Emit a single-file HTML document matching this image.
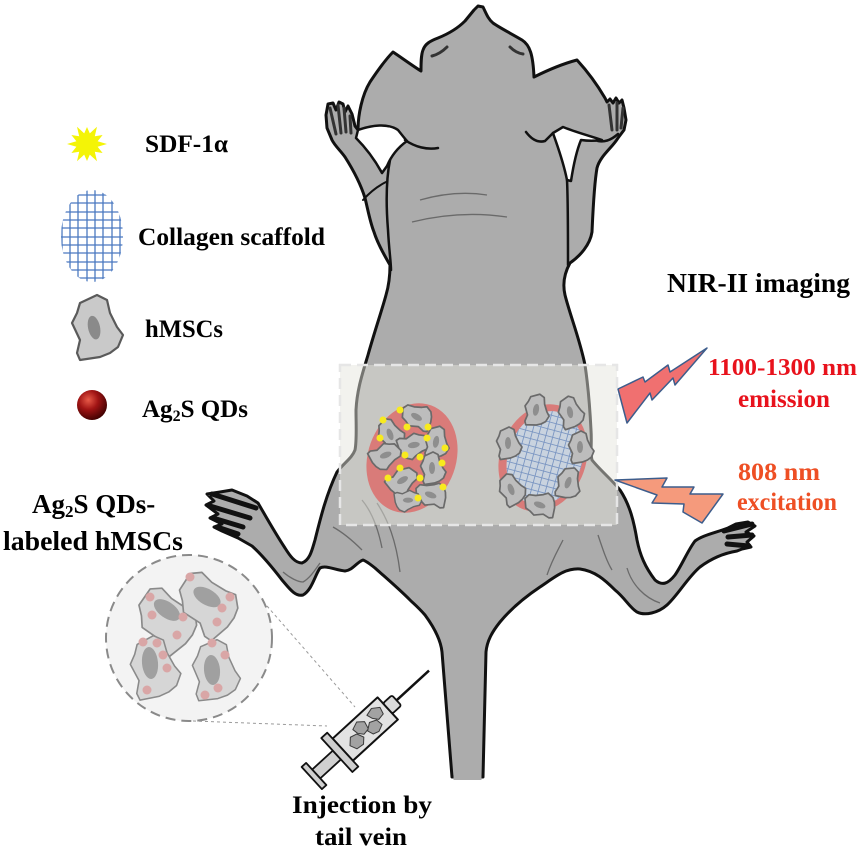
<!DOCTYPE html>
<html><head><meta charset="utf-8"><style>html,body{margin:0;padding:0;background:#fff;}svg{display:block}</style></head>
<body>
<svg width="865" height="859" viewBox="0 0 865 859" xmlns="http://www.w3.org/2000/svg">
<defs>
 <radialGradient id="qd" cx="0.38" cy="0.33" r="0.72">
  <stop offset="0" stop-color="#e85a48"/>
  <stop offset="0.45" stop-color="#a01414"/>
  <stop offset="1" stop-color="#3a0000"/>
 </radialGradient>
 <clipPath id="lg"><ellipse cx="92" cy="236" rx="31" ry="46"/></clipPath>
 <clipPath id="rg"><ellipse cx="545" cy="458" rx="37" ry="48" transform="rotate(20 545 458)"/></clipPath>
 <g id="sc">
  <path d="M-8.5,-12 L0,-16 L5,-13.5 L6.5,-7 L10,0 L13,4 L10.5,10 L6.5,13 L1.5,15 L-8.5,16.5 L-10,13 L-8.5,6.5 L-12.5,-2 L-10,-7 Z" fill="#bdbdbd" stroke="#6a6a6a" stroke-width="1.7" stroke-linejoin="round"/>
  <ellipse cx="-1" cy="0" rx="3" ry="6" fill="#8e8e8e"/>
 </g>
 <path id="bc" d="M-17,-24 L0,-32 L10,-27 L13,-14 L20,0 L26,8 L21,20 L13,26 L3,30 L-17,33 L-20,26 L-17,13 L-25,-4 L-20,-14 Z"/>
</defs>

<!-- Legend -->
<polygon points="107,144 97.6,146.8 102.6,153 94.8,151.8 97,161.3 89.8,154.6 87,161 84.2,154.6 77,161.3 79.2,151.8 71.4,153 76.4,146.8 67,144 76.4,141.2 71.4,135 79.2,136.2 77,126.7 84.2,133.4 87,127 89.8,133.4 97,126.7 94.8,136.2 102.6,135 97.6,141.2" fill="#f4f406"/>
<g clip-path="url(#lg)" stroke="#4a78c0" stroke-width="1.3" fill="none">
 <path d="M62 185V290M70 185V290M78 185V290M87 185V290M95 185V290M103 185V290M112 185V290M120 185V290"/>
 <path d="M58 187H128M58 195H128M58 203H128M58 212H128M58 220H128M58 228H128M58 237H128M58 245H128M58 253H128M58 262H128M58 270H128M58 278H128M58 286H128"/>
</g>
<g transform="translate(97,327)">
 <use href="#bc" fill="#c9c9c9" stroke="#5a5a5a" stroke-width="2.2" stroke-linejoin="round"/>
 <ellipse cx="-3" cy="0" rx="6" ry="12" transform="rotate(-12)" fill="#8a8a8a"/>
</g>
<circle cx="92" cy="405" r="15" fill="url(#qd)"/>

<g font-family="'Liberation Serif', serif" font-weight="bold" fill="#000">
 <text x="145" y="152" font-size="25" textLength="83" lengthAdjust="spacingAndGlyphs">SDF-1α</text>
 <text x="138" y="245" font-size="25" textLength="187" lengthAdjust="spacingAndGlyphs">Collagen scaffold</text>
 <text x="145" y="337" font-size="25" textLength="78" lengthAdjust="spacingAndGlyphs">hMSCs</text>
 <text x="142" y="417" font-size="25">Ag<tspan font-size="16" dy="4">2</tspan><tspan dy="-4">S QDs</tspan></text>
 <text x="667" y="292" font-size="27" textLength="183" lengthAdjust="spacingAndGlyphs">NIR-II imaging</text>
 <text x="32" y="513" font-size="27">Ag<tspan font-size="17" dy="4">2</tspan><tspan dy="-4">S QDs-</tspan></text>
 <text x="3" y="550" font-size="27" textLength="180" lengthAdjust="spacingAndGlyphs">labeled hMSCs</text>
 <text x="292" y="813" font-size="25" textLength="140" lengthAdjust="spacingAndGlyphs">Injection by</text>
 <text x="315" y="845" font-size="25" textLength="92" lengthAdjust="spacingAndGlyphs">tail vein</text>
 <text x="708" y="375" font-size="24" fill="#e8121c" textLength="149" lengthAdjust="spacingAndGlyphs">1100-1300 nm</text>
 <text x="738" y="407" font-size="25" fill="#e8121c" textLength="92" lengthAdjust="spacingAndGlyphs">emission</text>
 <text x="738" y="480" font-size="25" fill="#ee4f24" textLength="82" lengthAdjust="spacingAndGlyphs">808 nm</text>
 <text x="737" y="510" font-size="25" fill="#ee4f24" textLength="100" lengthAdjust="spacingAndGlyphs">excitation</text>
</g>

<!-- Inset circle -->
<circle cx="189" cy="638" r="83" fill="#f3f3f3" stroke="#8a8a8a" stroke-width="2" stroke-dasharray="10 6"/>
<path d="M267,606 L355,707 M193,721 L327,726" stroke="#9a9a9a" stroke-width="1" stroke-dasharray="3 3" fill="none"/>
<g fill="#d6d6d6" stroke="#8a8a8a" stroke-width="1.6" stroke-linejoin="round">
 <use href="#bc" transform="translate(167,618) rotate(-30) scale(1.05)"/>
 <use href="#bc" transform="translate(208,602) rotate(-32) scale(1.05)"/>
 <use href="#bc" transform="translate(155,667) rotate(-3) scale(0.98)"/>
 <use href="#bc" transform="translate(216,670) rotate(2) scale(0.95)"/>
</g>
<g fill="#a0a0a0">
 <ellipse cx="167" cy="610" rx="8" ry="15" transform="rotate(-55 167 610)"/>
 <ellipse cx="207" cy="597" rx="8" ry="15" transform="rotate(-60 207 597)"/>
 <ellipse cx="150" cy="663" rx="8" ry="16" transform="rotate(-5 150 663)"/>
 <ellipse cx="212" cy="670" rx="8" ry="15" transform="rotate(-5 212 670)"/>
</g>
<g fill="#d9a6a6">
 <circle cx="150" cy="597" r="4.5"/><circle cx="152" cy="615" r="4.5"/><circle cx="183" cy="617" r="4.5"/><circle cx="177" cy="635" r="4.5"/>
 <circle cx="190" cy="577" r="4.5"/><circle cx="230" cy="597" r="4.5"/><circle cx="222" cy="608" r="4.5"/><circle cx="217" cy="622" r="4.5"/>
 <circle cx="143" cy="642" r="4.5"/><circle cx="157" cy="643" r="4.5"/><circle cx="163" cy="655" r="4.5"/><circle cx="167" cy="668" r="4.5"/><circle cx="147" cy="690" r="4.5"/>
 <circle cx="212" cy="643" r="4.5"/><circle cx="225" cy="655" r="4.5"/><circle cx="218" cy="688" r="4.5"/><circle cx="205" cy="695" r="4.5"/>
</g>

<!-- Syringe -->
<g transform="translate(314,776) rotate(-42.5)" stroke="#111" stroke-width="1.8" stroke-linejoin="round">
 <line x1="112" y1="0" x2="156" y2="0" stroke-width="2.5"/>
 <rect x="3" y="-6" width="28" height="12" fill="#d0d0d0"/>
 <rect x="-3" y="-15" width="6" height="30" fill="#cfcfcf"/>
 <rect x="39" y="-15" width="61" height="30" fill="#e2e2e2" stroke-width="2"/>
 <rect x="31" y="-23" width="8" height="46" fill="#cfcfcf"/>
 <rect x="100" y="-7" width="12" height="14" rx="2" fill="#dadada"/>
 <g fill="#a2a2a2" stroke="#3a3a3a" stroke-width="1">
  <path d="M47,2 L53,-4 L60,-2 L63,5 L58,10 L50,9 Z"/>
  <path d="M60,-8 L68,-11 L74,-6 L72,2 L65,3 L61,-2 Z"/>
  <path d="M70,3 L77,-2 L84,1 L85,8 L78,11 L72,9 Z"/>
  <path d="M80,-9 L88,-11 L95,-6 L93,1 L86,2 L82,-3 Z"/>
 </g>
</g>

<!-- Mouse -->
<path id="mouse" d="M474,10 L478,6 L483,7 C486,13 488,19 493,23 C500,28 512,34 522,40 C530,45 533,55 534,77 C548,70 562,64 577,60 C588,72 598,86 605,98 L607,102 L610,99 L613,103 L616,98 L619,103 L622,100 L624,108 L626,120 L624,130 L618,138 C612,148 600,156 597,168 C594,185 593,210 592,232 C590,245 580,256 570,263 C565,272 562,282 565,295 C570,315 580,340 585,365 C588,385 590,410 591,430 C592,445 590,452 592,460 C600,470 612,480 620,490 C630,505 634,522 637,540 C640,555 645,567 655,580 C662,586 668,584 675,575 C682,565 688,550 695,541 C703,535 715,533 728,528 L736,524 L748,522 L755,526 L746,532 L754,536 L747,542 L751,547 L742,549 L737,551 C725,553 712,558 700,567 C688,577 678,595 667,605 C658,613 645,616 637,612 C630,608 625,598 615,590 C605,580 595,571 580,569 C565,568 555,577 540,587 C525,597 510,610 500,622 C492,632 487,641 486,652 L483,777 L452,777 L442,652 C441,642 436,630 425,615 C418,607 413,603 410,600 C398,588 385,577 375,568 C370,564 366,561 363,560 C357,562 353,570 345,571 C335,570 326,565 320,568 C315,575 312,590 303,595 C295,597 289,588 282,580 C272,567 262,555 252,546 L238,538 L222,531 L214,527 L222,524 L210,518 L218,514 L206,505 L214,501 L207,494 L220,492 L232,490 L247,496 L258,503 C265,515 275,533 285,548 C290,556 295,563 302,563 C310,560 312,550 315,540 C320,520 326,495 337,472 C345,462 352,458 355,450 C357,440 356,425 356,410 C357,390 362,375 368,355 C375,330 382,310 386,295 C389,285 390,275 390,265 C386,258 378,245 374,232 C370,222 368,210 365,198 C360,182 352,168 345,157 C340,150 335,146 332,140 L327,128 L326,115 L328,104 L333,103 L336,110 L339,102 L343,104 L345,112 L348,106 L352,114 L355,126 L358,130 C358,115 362,95 370,82 C378,70 385,60 393,52 C402,58 413,66 421,71 C421,63 421,55 423,50 C425,44 430,41 438,38 C448,34 458,28 465,21 Z" fill="#acacac"/>
<!-- darker legs -->
<g fill="#9d9d9d">
 <path d="M258,503 C265,515 275,533 285,548 C290,556 295,563 302,563 C310,560 312,550 315,540 C320,520 326,495 337,472 L345,478 C350,510 356,540 363,560 C357,562 353,570 345,571 C335,570 326,565 320,568 C315,575 312,590 303,595 C295,597 289,588 282,580 C272,567 262,555 252,546 Z"/>
 <path d="M620,490 C630,505 634,522 637,540 C640,555 645,567 655,580 C662,586 668,584 675,575 C682,565 688,550 695,541 C703,535 715,533 728,528 L737,551 C725,553 712,558 700,567 C688,577 678,595 667,605 C658,613 645,616 637,612 C630,608 625,598 615,590 C608,570 605,540 605,510 Z"/>
</g>
<use href="#mouse" fill="none" stroke="#111" stroke-width="3" stroke-linejoin="round"/>
<rect x="453.5" y="774" width="28" height="6" fill="#acacac"/>
<!-- notches -->
<path d="M358,130 C372,125 388,123 398,130 C402,135 405,139 407,141 C400,146 392,154 387,166 L382,173 C376,162 368,150 356,138 Z" fill="#fff" stroke="#111" stroke-width="2.5" stroke-linejoin="round"/>
<path d="M553,133 C557,145 563,160 567,180 L571,181 C573,168 576,152 581,140 C588,141 595,141 602,140 C590,136 575,132 563,127 Z" fill="#fff" stroke="#111" stroke-width="2.5" stroke-linejoin="round"/>
<g fill="none" stroke="#111" stroke-width="2.5" stroke-linecap="round">
 <path d="M405,140 C415,147 427,150 438,148"/>
 <path d="M526,132 C532,140 538,143 545,141 L553,133"/>
 <path d="M618,134 C610,141 604,142 598,141"/>
 <path d="M390,160 C386,180 386,205 388,230 C389,250 391,262 391,270"/>
 <path d="M567,180 C568,200 568,235 568,265"/>
 <path d="M363,200 C370,192 378,186 386,182" stroke-width="2"/>
</g>
<g fill="none" stroke="#333" stroke-width="3" stroke-linecap="round">
 <path d="M432,56 Q440,54 447,47"/>
 <path d="M510,47 Q516,53 523,54"/>
 <path d="M336,134 L330,108 M341,133 L338,105 M346,132 L344,108 M351,133 L350,116"/>
 <path d="M612,130 L609,105 M617,130 L617,103 M621,128 L623,108"/>
</g>
<g fill="none" stroke="#111" stroke-width="5" stroke-linecap="round">
 <path d="M256,508 L212,494 M250,518 L210,506 M243,527 L213,518 M238,534 L220,528"/>
 <path d="M724,531 L752,524 M728,537 L752,535 M727,544 L749,546"/>
</g>
<g fill="none" stroke="#6a6a6a" stroke-width="1.3">
 <path d="M420,200 Q455,190 487,195"/>
 <path d="M412,222 Q460,210 507,217"/>
 <path d="M333,527 C342,532 352,540 362,550"/>
 <path d="M362,500 C372,512 378,528 382,548"/>
 <path d="M377,503 C388,520 396,540 400,572"/>
 <path d="M283,572 C290,578 298,582 303,582 C310,578 315,570 320,563"/>
 <path d="M627,568 C632,585 645,598 660,603"/>
 <path d="M598,535 C603,550 607,562 612,570"/>
 <path d="M547,575 C552,560 558,550 563,540"/>
</g>

<!-- Imaging overlay -->
<rect x="340" y="365" width="277" height="160" fill="#e3e3dc" fill-opacity="0.48" stroke="#e6e6e6" stroke-width="2.5" stroke-dasharray="11 6"/>

<!-- Left implant -->
<ellipse cx="412" cy="458" rx="44" ry="56" transform="rotate(20 412 458)" fill="#d97b79"/>
<g>
 <use href="#sc" transform="translate(417,416) rotate(-60)"/>
 <use href="#sc" transform="translate(391,434) rotate(-20)"/>
 <use href="#sc" transform="translate(414,446) rotate(80)"/>
 <use href="#sc" transform="translate(437,442) rotate(10)"/>
 <use href="#sc" transform="translate(386,456) rotate(70)"/>
 <use href="#sc" transform="translate(433,468) rotate(0)"/>
 <use href="#sc" transform="translate(403,481) rotate(60)"/>
 <use href="#sc" transform="translate(431,494) rotate(-70)"/>
 <use href="#sc" transform="translate(408,501) rotate(90) scale(0.85)"/>
</g>
<g fill="#f8ea1e">
 <circle cx="400" cy="410" r="3.5"/><circle cx="383" cy="420" r="3.5"/><circle cx="407" cy="427" r="3.5"/><circle cx="428" cy="427" r="3.5"/>
 <circle cx="380" cy="438" r="3.5"/><circle cx="427" cy="438" r="3.5"/><circle cx="445" cy="448" r="3.5"/><circle cx="405" cy="455" r="3.5"/>
 <circle cx="420" cy="457" r="3.5"/><circle cx="442" cy="463" r="3.5"/><circle cx="400" cy="468" r="3.5"/><circle cx="388" cy="478" r="3.5"/>
 <circle cx="420" cy="478" r="3.5"/><circle cx="443" cy="487" r="3.5"/><circle cx="418" cy="498" r="3.5"/>
</g>

<!-- Right implant -->
<ellipse cx="543" cy="458" rx="43" ry="55" transform="rotate(20 543 458)" fill="#d97b79"/>
<g clip-path="url(#rg)">
 <rect x="490" y="395" width="110" height="130" fill="#c9d3df"/>
 <g transform="rotate(15 545 458)" stroke="#7b96c2" stroke-width="0.9" fill="none">
  <path d="M498 395V525M505 395V525M512 395V525M519 395V525M526 395V525M533 395V525M540 395V525M547 395V525M554 395V525M561 395V525M568 395V525M575 395V525M582 395V525M589 395V525"/>
  <path d="M490 401H600M490 408H600M490 415H600M490 422H600M490 429H600M490 436H600M490 443H600M490 450H600M490 457H600M490 464H600M490 471H600M490 478H600M490 485H600M490 492H600M490 499H600M490 506H600M490 513H600M490 520H600"/>
 </g>
</g>
<g>
 <use href="#sc" transform="translate(537,410) rotate(10)"/>
 <use href="#sc" transform="translate(571,412) rotate(-10)"/>
 <use href="#sc" transform="translate(581,447) rotate(0)"/>
 <use href="#sc" transform="translate(509,443) rotate(0)"/>
 <use href="#sc" transform="translate(512,489) rotate(-20)"/>
 <use href="#sc" transform="translate(569,483) rotate(20)"/>
 <use href="#sc" transform="translate(540,504) rotate(-70)"/>
</g>

<!-- Lightning bolts -->
<polygon points="618,389 643,377 645,382 668,365 670,372 707,348 675,385 673,378 652,400 650,393 627,423" fill="#f07070" stroke="#3d5d8c" stroke-width="1.5" stroke-linejoin="round"/>
<polygon points="615,480 667,478 662,487 694,487 690,494 723,494 702,523 683,512 684,504 652,503 657,495" fill="#f59a7c" stroke="#3d5d8c" stroke-width="1.5" stroke-linejoin="round"/>
</svg>
</body></html>
